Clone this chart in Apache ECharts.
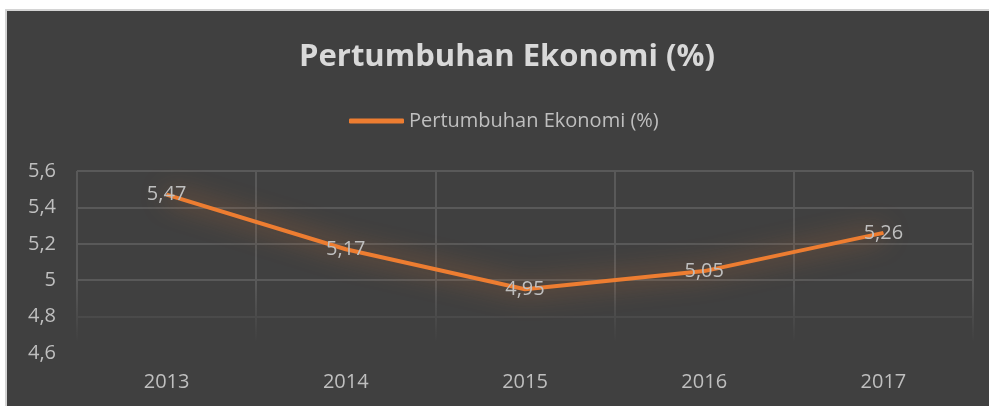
<!DOCTYPE html>
<html lang="id">

<head>
  <meta charset="UTF-8">
  <title>Pertumbuhan Ekonomi</title>
  <style>
    html, body {
      margin: 0;
      padding: 0;
      background: #fff;
    }
    #chart {
      width: 989px;
      height: 406px;
    }
  </style>
</head>

<body>
  <div id="chart"></div>
</body>

</html>
<script src="https://cdn.jsdelivr.net/npm/echarts@6/dist/echarts.min.js"></script>
<script>
  // data
  const years = ['2013', '2014', '2015', '2016', '2017'];
  const growth = [5.47, 5.17, 4.95, 5.05, 5.26];
  const seriesName = 'Pertumbuhan Ekonomi (%)';

  const fontName = '"Open Sans", "Noto Sans", sans-serif';
  const bg = '#404040';

  // 5.2 -> "5,2", 5 -> "5"
  function comma(v) {
    return String(+Number(v).toFixed(2)).replace('.', ',');
  }

  let chart = echarts.init(document.getElementById('chart'));
  let option = {
    backgroundColor: '#fff',
    textStyle: { fontFamily: fontName },
    graphic: [
      // outer frame
      { type: 'rect', z: 0, shape: { x: 5, y: 9, width: 984, height: 397 }, style: { fill: '#d4d4d4' } },
      { type: 'rect', z: 0, shape: { x: 7, y: 11, width: 982, height: 395 }, style: { fill: bg } },
      // fade the grid towards the bottom
      {
        type: 'rect', z: 1, silent: true,
        shape: { x: 72, y: 282, width: 908, height: 80 },
        style: {
          fill: new echarts.graphic.LinearGradient(0, 0, 0, 1, [
            { offset: 0, color: 'rgba(64,64,64,0)' },
            { offset: 0.75, color: 'rgba(64,64,64,1)' },
            { offset: 1, color: 'rgba(64,64,64,1)' }
          ])
        }
      }
    ],
    title: {
      text: seriesName,
      left: 502,
      textAlign: 'center',
      top: 37,
      textStyle: { color: '#d9d9d9', fontSize: 31, fontWeight: 'bold', fontFamily: fontName }
    },
    legend: {
      data: [seriesName],
      left: 344,
      top: 106,
      icon: 'roundRect',
      itemWidth: 55,
      itemHeight: 5,
      itemGap: 5,
      textStyle: { color: '#bfbfbf', fontSize: 20, fontFamily: fontName }
    },
    grid: {
      left: 77,
      right: 16,
      top: 171,
      bottom: 53
    },
    xAxis: {
      type: 'category',
      data: years,
      boundaryGap: true,
      axisLine: { show: false },
      axisTick: { show: false },
      axisLabel: { color: '#bfbfbf', fontSize: 20, margin: 19 },
      splitLine: { show: true, interval: 0, lineStyle: { color: '#595959', width: 2 } }
    },
    yAxis: {
      type: 'value',
      min: 4.6,
      max: 5.6,
      interval: 0.2,
      axisLine: { show: false },
      axisTick: { show: false },
      axisLabel: { color: '#bfbfbf', fontSize: 20, margin: 21, formatter: comma },
      splitLine: { lineStyle: { color: '#595959', width: 2 } }
    },
    series: [{
      name: seriesName,
      type: 'line',
      z: 3,
      data: growth,
      symbol: 'circle',
      symbolSize: 1,
      showSymbol: true,
      lineStyle: {
        color: '#ED7D31',
        width: 4,
        shadowColor: 'rgba(237,125,49,0.8)',
        shadowBlur: 26
      },
      itemStyle: { color: '#ED7D31' },
      label: {
        show: true,
        position: 'inside',
        color: '#bfbfbf',
        fontSize: 20,
        formatter: function (p) { return comma(p.value); }
      }
    }]
  };
  chart.setOption(option, true);
</script>
